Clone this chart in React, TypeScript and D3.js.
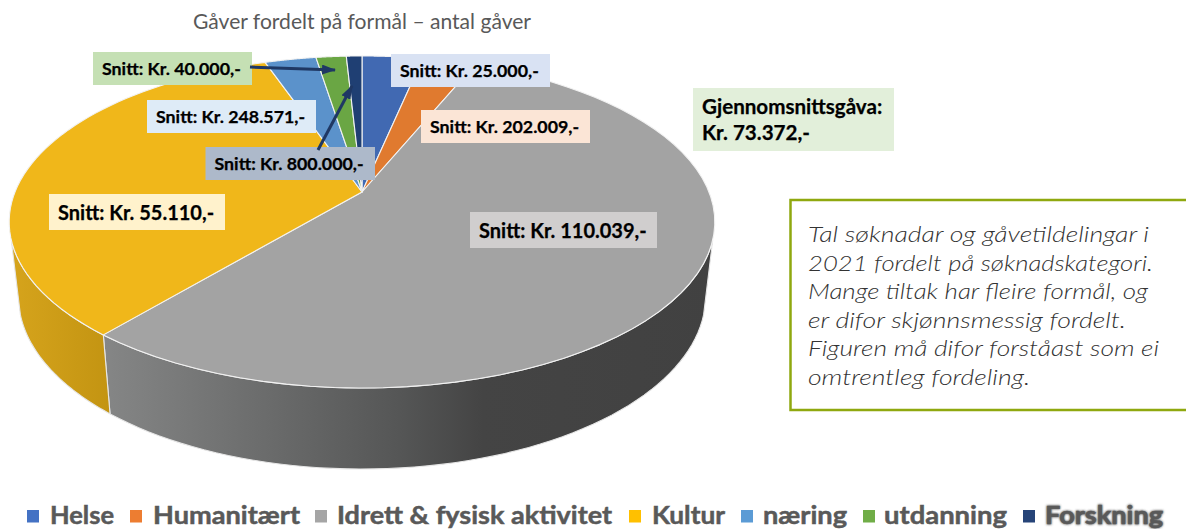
import React from "react";
import * as d3 from "d3";

const title = "Gåver fordelt på formål – antal gåver";
const categories = ["Helse", "Humanitært", "Idrett & fysisk aktivitet", "Kultur", "næring", "utdanning", "Forskning"];
const shares = [3.3, 2.9, 54.9, 33.6, 2.8, 1.65, 0.85];
const colors = ["#4169b2", "#e07a2f", "#a3a3a3", "#f0b71a", "#5b92cb", "#6aa644", "#1f3f73"];
const legendColors = ["#4472c4", "#ed7d31", "#a5a5a5", "#ffc000", "#5b9bd5", "#70ad47", "#264478"];
const legendMarkerX = [27, 130, 315, 629, 741, 863, 1023];
const legendTextX = [50, 153, 337, 652, 763, 884, 1045];
const legendTextW = [64, 147, 275, 73, 84, 123, 118];

const snittLabels = [
  { text: "Snitt: Kr. 25.000,-", x: 391, y: 54, w: 159, h: 33, fill: "#d9e2f3" },
  { text: "Snitt: Kr. 202.009,-", x: 421, y: 110, w: 169, h: 33, fill: "#fbe5d6" },
  { text: "Snitt: Kr. 110.039,-", x: 470, y: 212, w: 187, h: 36, fill: "#d0cece" },
  { text: "Snitt: Kr. 55.110,-", x: 49, y: 194, w: 176, h: 36, fill: "#fff2cc" },
  { text: "Snitt: Kr. 248.571,-", x: 147, y: 100, w: 169, h: 33, fill: "#deebf7" },
  { text: "Snitt: Kr. 40.000,-", x: 93, y: 52, w: 159, h: 33, fill: "#c5e0b4" },
  { text: "Snitt: Kr. 800.000,-", x: 205.5, y: 147, w: 169.5, h: 33, fill: "#adb9ca" },
];
const noteLines = [
  "Tal søknadar og gåvetildelingar i",
  "2021 fordelt på søknadskategori.",
  "Mange tiltak har fleire formål, og",
  "er difor skjønnsmessig fordelt.",
  "Figuren må difor forståast som ei",
  "omtrentleg fordeling.",
];
const noteWidths = [341, 345, 340, 318, 351, 222];

// perspective projection of the flat pie
const cx = 362, cy = 192, A = 347, B = 160.6, K = 0.1807;
const project = (t: number): [number, number] => {
  const u = Math.sin(t), v = -Math.cos(t), d = 1 - K * v;
  return [cx + (A * u) / d, cy + (B * v) / d];
};
const projectLow = (t: number): [number, number] => {
  const [x, y] = project(t);
  const v = -Math.cos(t);
  return [cx + (x - cx) * 0.974, y + 72.4 + 8.6 * v];
};
const arcs = d3.pie<number>().sort(null)(shares);

const sample = (a0: number, a1: number, f: (t: number) => [number, number]) =>
  d3.range(0, 61).map((i) => f(a0 + ((a1 - a0) * i) / 60));
const line = d3.line();

const FONT = "Lato, Carlito, sans-serif";

export default function App() {
  const frontA = (106.5 * Math.PI) / 180, frontB = (253.5 * Math.PI) / 180;
  const walls = arcs.map((a, i) => {
    const s = Math.max(a.startAngle, frontA), e = Math.min(a.endAngle, frontB);
    if (e <= s) return null;
    const top = sample(s, e, project);
    const low = sample(e, s, projectLow);
    return { i, d: line([...top, ...low])! + "Z" };
  });
  const tops = arcs.map((a, i) => ({
    i,
    d: line([[cx, cy], ...sample(a.startAngle, a.endAngle, project)])! + "Z",
  }));

  return (
    <svg width={1186} height={529} style={{ position: "absolute", left: 0, top: 0, background: "#fff" }}>
      <defs>
        <linearGradient id="wallGray" gradientUnits="userSpaceOnUse" x1={104} x2={715} y1={0} y2={0}>
          <stop offset="0" stopColor="#858686" />
          <stop offset="0.484" stopColor="#555656" />
          <stop offset="0.62" stopColor="#444444" />
          <stop offset="1" stopColor="#414141" />
        </linearGradient>
        <linearGradient id="wallYellow" gradientUnits="userSpaceOnUse" x1={10} x2={110} y1={0} y2={0}>
          <stop offset="0" stopColor="#d6a41c" />
          <stop offset="1" stopColor="#c39412" />
        </linearGradient>
        <filter id="legendBlur" x="-5%" y="-20%" width="110%" height="140%">
          <feGaussianBlur stdDeviation="1" />
        </filter>
        <marker id="head" markerUnits="userSpaceOnUse" markerWidth={14} markerHeight={10} refX={13} refY={5} orient="auto">
          <path d="M0,0L14,5L0,10Z" fill="#1f3864" />
        </marker>
      </defs>

      <text x={362} y={29} textAnchor="middle" fontFamily={FONT} fontSize={20.5} fill="#595959" textLength={338} lengthAdjust="spacingAndGlyphs">
        {title}
      </text>

      <g stroke="#e6e6e6" strokeWidth={1.1} strokeLinejoin="round">
        {walls.map((w) =>
          w ? <path key={w.i} d={w.d} fill={w.i === 2 ? "url(#wallGray)" : "url(#wallYellow)"} /> : null
        )}
      </g>
      <g stroke="#f2f2f2" strokeWidth={1.1} strokeLinejoin="round">
        {tops.map((t) => <path key={t.i} d={t.d} fill={colors[t.i]} />)}
      </g>

      {snittLabels.map((l) => (
        <g key={l.text}>
          <rect x={l.x} y={l.y} width={l.w} height={l.h} fill={l.fill} />
          <text x={l.x + 9} y={l.y + l.h / 2 + (l.h > 34 ? 7.5 : 6.5)} fontFamily={FONT} fontWeight={700} fontSize={l.h > 34 ? 20 : 17.8}
            fill="#000" stroke="#000" strokeWidth={0.25}>
            {l.text}
          </text>
        </g>
      ))}

      <line x1={250} y1={67} x2={335} y2={70} stroke="#1f3864" strokeWidth={3} markerEnd="url(#head)" />
      <line x1={318} y1={150} x2={352} y2={86} stroke="#1f3864" strokeWidth={3} markerEnd="url(#head)" />

      <rect x={693} y={88} width={201} height={63} fill="#e2efda" />
      <text x={702} y={114} fontFamily={FONT} fontWeight={700} fontSize={20.6} fill="#000" stroke="#000" strokeWidth={0.25}>Gjennomsnittsgåva:</text>
      <text x={702} y={140} fontFamily={FONT} fontWeight={700} fontSize={20.6} fill="#000" stroke="#000" strokeWidth={0.25}>Kr. 73.372,-</text>

      <path d="M1186,200H790.5V410H1186" fill="#fff" stroke="#8fa80f" strokeWidth={2.5} />
      {noteLines.map((n, i) => (
        <text key={n} x={808} y={242 + i * 28.5} fontFamily={FONT} fontStyle="italic" fontWeight={300} fontSize={21}
          fill="#333333" textLength={noteWidths[i]} lengthAdjust="spacingAndGlyphs">
          {n}
        </text>
      ))}

      {categories.map((c, i) => (
        <g key={c}>
          <rect x={legendMarkerX[i]} y={510} width={12} height={12.5} fill={legendColors[i]} />
          {i === 6 && (
            <text x={legendTextX[i]} y={524} fontFamily={FONT} fontWeight={700} fontSize={25} fill="#595959"
              stroke="#595959" strokeWidth={1} filter="url(#legendBlur)" textLength={legendTextW[i]} lengthAdjust="spacingAndGlyphs">
              {c}
            </text>
          )}
          <text x={legendTextX[i]} y={524} fontFamily={FONT} fontWeight={700} fontSize={25} fill="#595959"
            stroke="#595959" strokeWidth={0.5} textLength={legendTextW[i]} lengthAdjust="spacingAndGlyphs">
            {c}
          </text>
        </g>
      ))}
    </svg>
  );
}
